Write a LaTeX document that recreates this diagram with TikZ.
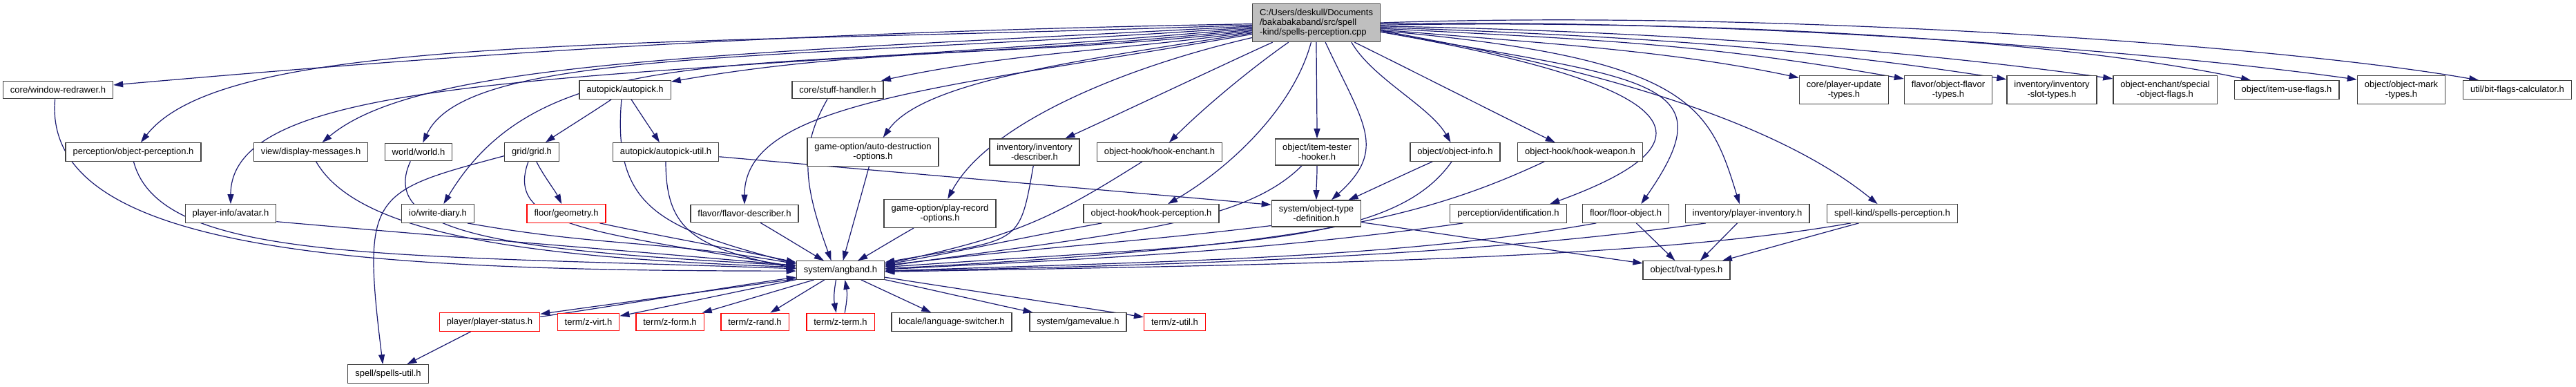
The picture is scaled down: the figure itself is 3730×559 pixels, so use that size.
\documentclass[tikz,border=0pt]{standalone}
\usepackage{fontspec}
\setmainfont{Liberation Sans}
\usetikzlibrary{arrows.meta,backgrounds}
\definecolor{inclBlue}{HTML}{191970}
\definecolor{rootGrey}{HTML}{BFBFBF}
\definecolor{boxLine}{HTML}{404040}
\definecolor{missRed}{HTML}{FF0000}

\begin{document}
\begin{tikzpicture}[x=0.5pt,y=-0.5pt,>=Latex]
  \tikzstyle{filebox}=[draw=boxLine,fill=white,line width=0.65pt,inner xsep=5.25pt,inner ysep=3.6pt,minimum height=12.75pt,align=center,font=\fontsize{6.5}{7.15}\selectfont]
  \tikzstyle{missbox}=[filebox,draw=missRed]
  \tikzstyle{rootbox}=[filebox,fill=rootGrey,align=left]
  \tikzstyle{incl}=[-{Triangle[length=7pt,width=4.5pt]},draw=inclBlue,line width=0.6pt]
  \useasboundingbox (0,0) rectangle (3730,559);
  \node[rootbox] (root) at (1906,33) {C:/Users/deskull/Documents\\/bakabakaband/src/spell\\-kind/spells-perception.cpp};
  % first row
  \node[filebox] (winredraw) at (84,130) {core/window-redrawer.h};
  \node[filebox] (autopick) at (905,130) {autopick/autopick.h};
  \node[filebox] (stuffh) at (1213,130) {core/stuff-handler.h};
  \node[filebox] (updtypes) at (2670,130) {core/player-update\\-types.h};
  \node[filebox] (flavtypes) at (2821,130) {flavor/object-flavor\\-types.h};
  \node[filebox] (slottypes) at (2971,130) {inventory/inventory\\-slot-types.h};
  \node[filebox] (specflags) at (3135,130) {object-enchant/special\\-object-flags.h};
  \node[filebox] (useflags) at (3311,130) {object/item-use-flags.h};
  \node[filebox] (marktypes) at (3477,130) {object/object-mark\\-types.h};
  \node[filebox] (bitflags) at (3645,130) {util/bit-flags-calculator.h};
  % second row
  \node[filebox] (objperc) at (193,220) {perception/object-perception.h};
  \node[filebox] (dispmsg) at (450,220) {view/display-messages.h};
  \node[filebox] (world) at (606,220) {world/world.h};
  \node[filebox] (grid) at (770,220) {grid/grid.h};
  \node[filebox] (autoutil) at (964,220) {autopick/autopick-util.h};
  \node[filebox] (autodest) at (1264,220) {game-option/auto-destruction\\-options.h};
  \node[filebox] (invdesc) at (1498,220) {inventory/inventory\\-describer.h};
  \node[filebox] (hookench) at (1679,220) {object-hook/hook-enchant.h};
  \node[filebox] (itemtester) at (1907,220) {object/item-tester\\-hooker.h};
  \node[filebox] (objinfo) at (2107,220) {object/object-info.h};
  \node[filebox] (hookweap) at (2288,220) {object-hook/hook-weapon.h};
  % third row
  \node[filebox] (avatar) at (334,309) {player-info/avatar.h};
  \node[filebox] (diary) at (634,309) {io/write-diary.h};
  \node[missbox] (geometry) at (820,309) {floor/geometry.h};
  \node[filebox] (flavdesc) at (1078,309) {flavor/flavor-describer.h};
  \node[filebox] (playrec) at (1361,309) {game-option/play-record\\-options.h};
  \node[filebox] (hookperc) at (1667,309) {object-hook/hook-perception.h};
  \node[filebox] (objtype) at (1906,309) {system/object-type\\-definition.h};
  \node[filebox] (ident) at (2184,309) {perception/identification.h};
  \node[filebox] (floorobj) at (2354,309) {floor/floor-object.h};
  \node[filebox] (plinv) at (2530,309) {inventory/player-inventory.h};
  \node[filebox] (spellperc) at (2740,309) {spell-kind/spells-perception.h};
  % fourth row
  \node[filebox] (angband) at (1217,391) {system/angband.h};
  \node[filebox] (tval) at (2442,391) {object/tval-types.h};
  % fifth row
  \node[missbox] (plstatus) at (709,466) {player/player-status.h};
  \node[missbox] (zvirt) at (852,466) {term/z-virt.h};
  \node[missbox] (zform) at (970,466) {term/z-form.h};
  \node[missbox] (zrand) at (1093,466) {term/z-rand.h};
  \node[missbox] (zterm) at (1217,466) {term/z-term.h};
  \node[filebox] (langsw) at (1378,466) {locale/language-switcher.h};
  \node[filebox] (gameval) at (1561,466) {system/gamevalue.h};
  \node[missbox] (zutil) at (1701,466) {term/z-util.h};
  \node[filebox] (spellsutil) at (562,541) {spell/spells-util.h};
  % include edges
  \begin{scope}[on background layer]
  % from the source file
  \foreach \a/\b/\o/\i/\p/\q in {
    root.181/winredraw.5/181/5/350/250, root.182/objperc.52/182/52/450/100, root.183/dispmsg.40/183/40/400/90,
    root.184/world.65/184/65/350/75, root.185/avatar.north/185/90/450/100, root.186/diary.59/186/59/350/150,
    root.187/autopick.10/187/10/150/150, root.188/stuffh.12/188/12/100/100, root.189/autodest.55/189/55/125/50,
    root.190/flavdesc.north/190/90/225/75, root.193/playrec.62/193/62/100/60, root.204/invdesc.24/204/24/25/25,
    root.215/hookench.45/215/45/35/35, root.255/hookperc.30/255/30/50/50, root.south/itemtester.north/270/90/10/10}
    {\draw[incl] (\a) to[out=\o,in=\i,out distance=\p pt,in distance=\q pt] (\b);}
  \foreach \a/\b/\o/\i/\p/\q in {
    root.295/objtype.42/295/42/65/55, root.331/objinfo.115/300/120/30/30, root.333/hookweap.159/334/154/30/30,
    root.352/ident.13/350/20/200/150, root.352/floorobj.32/350/55/200/110, root.353/plinv.129/355/107/225/75,
    root.353/spellperc.147/350/141/150/100, root.354/updtypes.165/355/168/100/100, root.355/flavtypes.166/357/170/150/150,
    root.356/slottypes.167/358/171/175/150, root.357/specflags.168/359/172/200/150, root.358/useflags.165/1/168/225/150,
    root.359/marktypes.167/1/172/250/150, root.east/bitflags.166/2/170/275/150}
    {\draw[incl] (\a) to[out=\o,in=\i,out distance=\p pt,in distance=\q pt] (\b);}
  % between the headers
  \foreach \a/\b/\o/\i/\p/\q in {
    autopick.215/grid.35/215/35/10/10, autopick.303/autoutil.123/303/123/10/10, autopick.250/angband.172/265/165/80/100,
    grid.296/geometry.116/296/116/10/10, grid.250/angband.176/250/170/50/150, grid.188/spellsutil.119/195/97/100/125,
    autoutil.south/angband.178/270/168/50/75, autoutil.355/objtype.169/355/175/150/150,
    stuffh.222/angband.134/240/110/40/60, autodest.255/angband.75/255/75/10/10, flavdesc.330/angband.150/330/150/10/10,
    playrec.209/angband.29/209/29/10/10, invdesc.265/angband.10/260/10/60/100, hookench.209/angband.8/212/12/75/100,
    hookperc.191/angband.7/190/10/50/50, itemtester.222/angband.5/225/8/60/175, itemtester.south/objtype.north/270/90/10/10,
    objinfo.203/objtype.23/203/23/10/10, objinfo.250/angband.4/235/4/75/250, hookweap.195/angband.2/205/3/100/300}
    {\draw[incl] (\a) to[out=\o,in=\i,out distance=\p pt,in distance=\q pt] (\b);}
  \foreach \a/\b/\o/\i/\p/\q in {
    objtype.195/angband.6/187/7/100/100, objtype.349/tval.171/352/172/50/50,
    ident.192/angband.1/188/3/150/150, floorobj.198/angband.359/190/2/150/200, floorobj.318/tval.140/316/136/10/10,
    plinv.193/angband.359/188/1/150/250, plinv.224/tval.35/225/45/10/10,
    spellperc.193/angband.358/190/1/150/300, spellperc.196/tval.15/195/15/25/25,
    winredraw.252/angband.181/265/180/110/325, objperc.272/angband.178/285/178/75/300,
    dispmsg.299/angband.176/300/178/60/200, world.229/angband.174/245/177/60/200,
    avatar.350/angband.174/355/175/150/150, diary.342/angband.172/350/170/100/100,
    geometry.344/angband.170/348/168/50/50}
    {\draw[incl] (\a) to[out=\o,in=\i,out distance=\p pt,in distance=\q pt] (\b);}
  \foreach \a/\b/\o/\i/\p/\q in {
    angband.191/plstatus.9/188/8/50/50, plstatus.6/angband.189/8/188/50/50,
    angband.192/zvirt.11/191/11/25/25, angband.200/zform.16/196/16/15/15, angband.211/zrand.31/211/31/10/10,
    angband.245/zterm.115/260/100/10/10, zterm.65/angband.295/80/280/10/10,
    angband.335/langsw.155/335/155/10/10, angband.348/gameval.168/348/168/25/25,
    angband.351/zutil.171/351/171/50/50, plstatus.207/spellsutil.27/207/27/10/10}
    {\draw[incl] (\a) to[out=\o,in=\i,out distance=\p pt,in distance=\q pt] (\b);}
  \end{scope}
\end{tikzpicture}
\end{document}
